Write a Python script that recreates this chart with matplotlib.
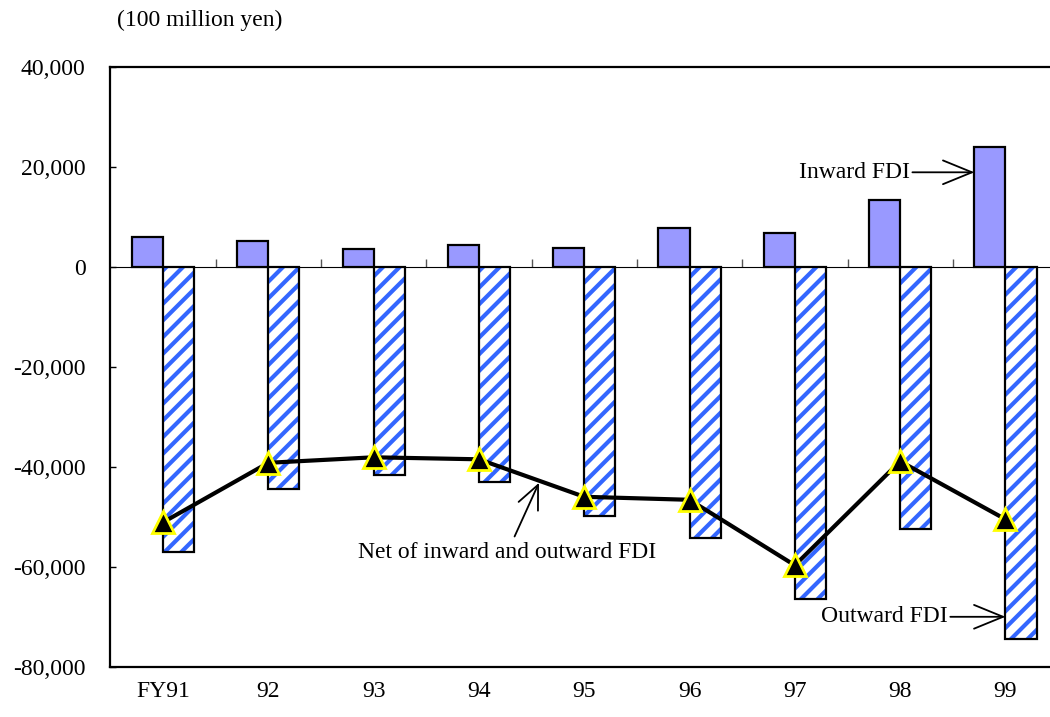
import matplotlib.pyplot as plt
from matplotlib.ticker import FuncFormatter

plt.rcParams['font.family'] = ['Liberation Serif', 'DejaVu Serif']
plt.rcParams['hatch.linewidth'] = 3.0

years = ["FY91", "92", "93", "94", "95", "96", "97", "98", "99"]
inward = [6000, 5300, 3600, 4500, 3800, 7800, 6800, 13500, 24100]
outward = [-57000, -44400, -41600, -42900, -49700, -54200, -66400, -52300, -74400]
net = [-51000, -39100, -38000, -38400, -45900, -46500, -59600, -38800, -50400]

x = list(range(len(years)))
w = 0.295

fig = plt.figure(figsize=(10.5, 7.17), dpi=100)
# plot area runs past the right edge of the figure
ax = fig.add_axes([110.4 / 1050, 49.7 / 717, 947.7 / 1050, 600 / 717])

ax.bar(x, inward, width=-w, align='edge', color='#9999ff',
       edgecolor='black', linewidth=1.6, zorder=3)
ax.bar(x, outward, width=w, align='edge', color='white',
       edgecolor='#3366ff', hatch='//', linewidth=0, zorder=3)
ax.bar(x, outward, width=w, align='edge', fill=False,
       edgecolor='black', linewidth=1.6, zorder=4)

ax.plot(x, net, color='black', linewidth=3, marker='^', markersize=16,
        markerfacecolor='black', markeredgecolor='#ffff00',
        markeredgewidth=2, zorder=5)

ax.set_xlim(-0.5, 8.5)
ax.set_ylim(-80000, 40000)
ax.set_yticks(range(-80000, 40001, 20000))
ax.yaxis.set_major_formatter(FuncFormatter(lambda v, p: f"{int(v):,}"))
ax.tick_params(axis='y', direction='in', length=4.5, width=1, pad=18,
               labelsize=17)
ax.set_xticks(x)
ax.set_xticklabels(years)
ax.tick_params(axis='x', length=0, pad=10, labelsize=17)

for side in ['left', 'top', 'bottom']:
    ax.spines[side].set_linewidth(1.6)
ax.spines['right'].set_visible(False)

# zero line with category separators
zero = ax.secondary_xaxis(80000 / 120000)
zero.set_xticks([i + 0.5 for i in x[:-1]])
zero.set_xticklabels([])
zero.tick_params(direction='out', length=6, width=1, color='#555555')
zero.spines['bottom'].set_color('#808080')
zero.spines['bottom'].set_linewidth(1.5)
zero.spines['bottom'].set_zorder(2)

arrow = dict(arrowstyle='->,head_length=1.1,head_width=0.45',
             mutation_scale=19, color='black', lw=1.3,
             shrinkA=0, shrinkB=0)
ax.annotate("Inward FDI", xy=(8 - w, 19000), xytext=(7.09, 19000),
            ha='right', va='center', fontsize=17, arrowprops=arrow,
            zorder=6)
ax.annotate("Outward FDI", xy=(8, -69900), xytext=(7.45, -69900),
            ha='right', va='center', fontsize=17, arrowprops=arrow,
            zorder=6)
ax.annotate("Net of inward and outward FDI", xy=(3.57, -43100),
            xytext=(3.27, -57000), ha='center', va='center', fontsize=17,
            arrowprops=dict(arrowstyle='->,head_length=1.0,head_width=0.45',
                            mutation_scale=17, color='black', lw=1.3,
                            shrinkA=2, shrinkB=0),
            zorder=6)

fig.text(117 / 1050, 1 - 20 / 717, "(100 million yen)", ha='left',
         va='center', fontsize=17)

fig.savefig("out.png", dpi=100)
